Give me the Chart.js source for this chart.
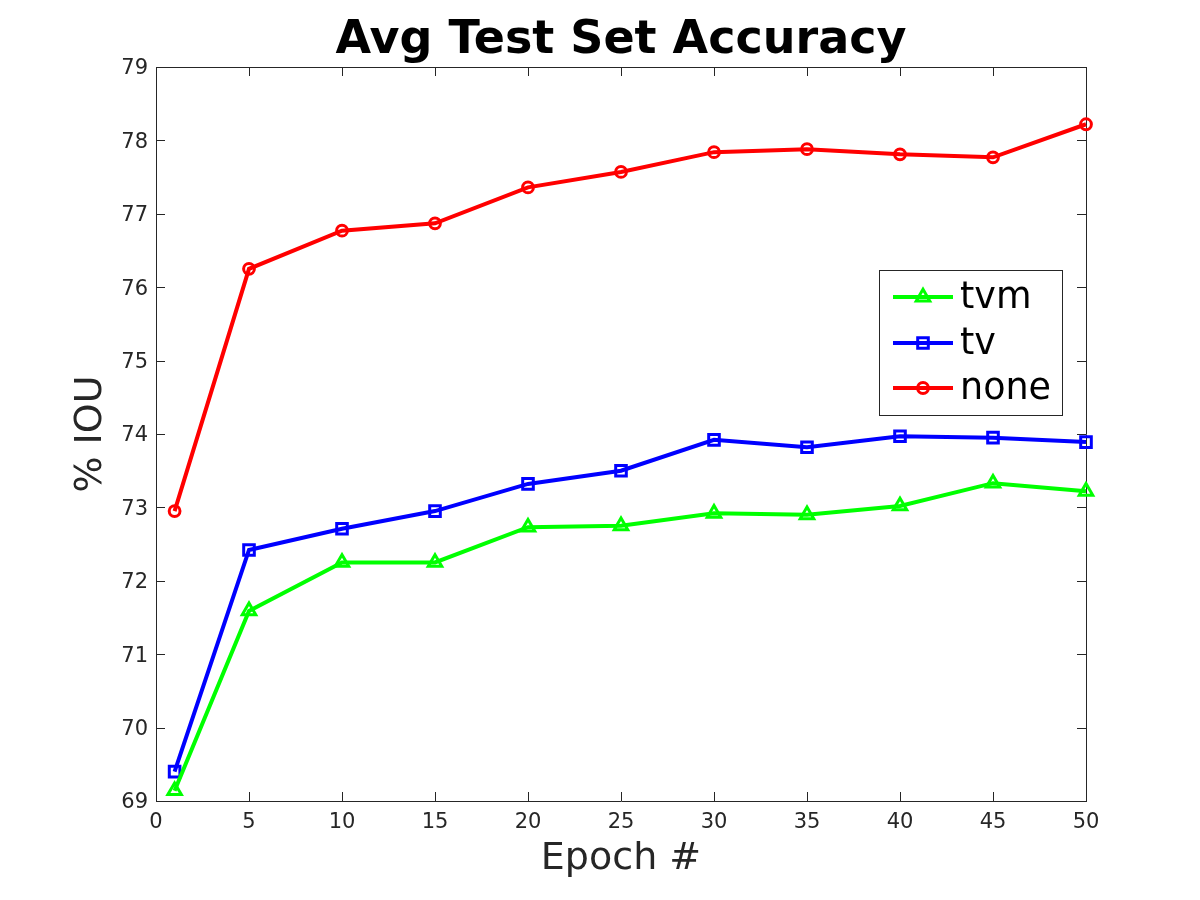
<!DOCTYPE html>
<html>
<head>
<meta charset="utf-8">
<script src="https://cdn.jsdelivr.net/npm/chart.js@4/dist/chart.umd.min.js"></script>
<style>
  html, body { margin: 0; padding: 0; background: #ffffff; }
  #wrap { width: 1200px; height: 900px; }
</style>
</head>
<body>
<div id="wrap"><canvas id="c" width="1200" height="900"></canvas></div>
<script>
const epochs = [1, 5, 10, 15, 20, 25, 30, 35, 40, 45, 50];
const tvmValues = [69.14, 71.59, 72.25, 72.25, 72.73, 72.75, 72.92, 72.90, 73.02, 73.33, 73.22];
const tvValues = [69.40, 72.42, 72.71, 72.95, 73.32, 73.50, 73.92, 73.82, 73.97, 73.95, 73.89];
const noneValues = [72.95, 76.25, 76.77, 76.87, 77.36, 77.57, 77.84, 77.88, 77.81, 77.77, 78.22];
const seriesNames = ['tvm', 'tv', 'none'];
const titleText = 'Avg Test Set Accuracy';
const xTitle = 'Epoch #';
const yTitle = '% IOU';

const FONT = "'DejaVu Sans', 'Liberation Sans', sans-serif";
const AX = '#262626';

function pts(vals) { return epochs.map((e, i) => ({ x: e, y: vals[i] })); }

function dataset(label, vals, color, style, radius) {
  return {
    label: label,
    data: pts(vals),
    borderColor: color,
    backgroundColor: color,
    borderWidth: 4,
    pointStyle: style,
    pointRadius: radius,
    pointHoverRadius: radius,
    pointBorderColor: color,
    pointBackgroundColor: 'rgba(0,0,0,0)',
    pointBorderWidth: 3,
    tension: 0,
    clip: false
  };
}

// Inward tick marks on all four sides (MATLAB box style)
const boxTicks = {
  id: 'boxTicks',
  afterDraw(chart) {
    const { ctx, chartArea: a, scales } = chart;
    const len = 9;
    ctx.save();
    ctx.strokeStyle = AX;
    ctx.lineWidth = 1;
    ctx.beginPath();
    scales.x.ticks.forEach(t => {
      const px = Math.round(scales.x.getPixelForValue(t.value)) + 0.5;
      ctx.moveTo(px, a.bottom); ctx.lineTo(px, a.bottom - len);
      ctx.moveTo(px, a.top); ctx.lineTo(px, a.top + len);
    });
    scales.y.ticks.forEach(t => {
      const py = Math.round(scales.y.getPixelForValue(t.value)) + 0.5;
      ctx.moveTo(a.left, py); ctx.lineTo(a.left + len, py);
      ctx.moveTo(a.right, py); ctx.lineTo(a.right - len, py);
    });
    ctx.stroke();
    ctx.restore();
  }
};

function drawMarker(ctx, style, x, y, r) {
  ctx.beginPath();
  if (style === 'triangle') {
    for (let k = 0; k < 3; k++) {
      const ang = k * 2 * Math.PI / 3;
      const px = x + Math.sin(ang) * r, py = y - Math.cos(ang) * r;
      if (k === 0) ctx.moveTo(px, py); else ctx.lineTo(px, py);
    }
    ctx.closePath();
  } else if (style === 'rect') {
    const s = Math.SQRT1_2 * r;
    ctx.rect(x - s, y - s, 2 * s, 2 * s);
  } else {
    ctx.arc(x, y, r, 0, Math.PI * 2);
  }
  ctx.stroke();
}

// Legend box inside the axes (upper right), like MATLAB
const boxLegend = {
  id: 'boxLegend',
  afterDraw(chart) {
    const { ctx } = chart;
    const bx = 879.5, by = 270.5, bw = 183, bh = 145;
    ctx.save();
    ctx.fillStyle = '#ffffff';
    ctx.fillRect(bx, by, bw, bh);
    ctx.strokeStyle = AX;
    ctx.lineWidth = 1;
    ctx.strokeRect(bx, by, bw, bh);
    const rows = [297, 343, 388];
    chart.data.datasets.forEach((ds, i) => {
      const y = rows[i];
      ctx.strokeStyle = ds.borderColor;
      ctx.lineWidth = ds.borderWidth;
      ctx.beginPath();
      ctx.moveTo(893, y); ctx.lineTo(953, y);
      ctx.stroke();
      ctx.lineWidth = ds.pointBorderWidth;
      drawMarker(ctx, ds.pointStyle, 923, y, ds.pointRadius);
      ctx.fillStyle = '#000000';
      ctx.font = '36.5px ' + FONT;
      ctx.textAlign = 'left';
      ctx.textBaseline = 'middle';
      ctx.fillText(ds.label, 960, y + 2);
    });
    ctx.restore();
  }
};

new Chart(document.getElementById('c'), {
  type: 'line',
  data: {
    datasets: [
      dataset(seriesNames[0], tvmValues, '#00ff00', 'triangle', 7.8),
      dataset(seriesNames[1], tvValues, '#0000ff', 'rect', 7.5),
      dataset(seriesNames[2], noneValues, '#ff0000', 'circle', 5.4)
    ]
  },
  options: {
    responsive: false,
    animation: false,
    events: [],
    layout: { padding: 0, autoPadding: false },
    plugins: {
      legend: { display: false },
      tooltip: { enabled: false },
      title: {
        display: true,
        text: titleText,
        fullSize: false,
        color: '#000000',
        font: { family: FONT, size: 46, weight: 'bold', lineHeight: 1.148 },
        padding: { top: 14.2, bottom: 0 }
      }
    },
    scales: {
      x: {
        type: 'linear',
        position: 'bottom',
        min: 0, max: 50,
        ticks: { stepSize: 5, color: AX, font: { family: FONT, size: 21 }, padding: 9, maxRotation: 0 },
        grid: { display: false, drawTicks: false },
        border: { display: true, color: AX, width: 1 },
        title: { display: true, text: xTitle, color: AX, font: { family: FONT, size: 38, lineHeight: 1.2 }, padding: { top: 0, bottom: 18 } },
        afterFit(s) { s.height = 99; }
      },
      x2: {
        type: 'linear',
        position: 'top',
        min: 0, max: 50,
        ticks: { display: false },
        grid: { display: false, drawTicks: false },
        border: { display: true, color: AX, width: 1 },
        afterFit(s) { s.height = 0; }
      },
      y: {
        type: 'linear',
        position: 'left',
        min: 69, max: 79,
        ticks: { stepSize: 1, color: AX, font: { family: FONT, size: 21 }, padding: 8, labelOffset: 2 },
        grid: { display: false, drawTicks: false },
        border: { display: true, color: AX, width: 1 },
        title: { display: true, text: yTitle, color: AX, font: { family: FONT, size: 38, lineHeight: 1.2 }, padding: { top: 68.2, bottom: 0 } },
        afterFit(s) { s.width = 156; }
      },
      y2: {
        type: 'linear',
        position: 'right',
        min: 69, max: 79,
        ticks: { display: false },
        grid: { display: false, drawTicks: false },
        border: { display: true, color: AX, width: 1 },
        afterFit(s) { s.width = 114; }
      }
    }
  },
  plugins: [boxTicks, boxLegend]
});
</script>
</body>
</html>
